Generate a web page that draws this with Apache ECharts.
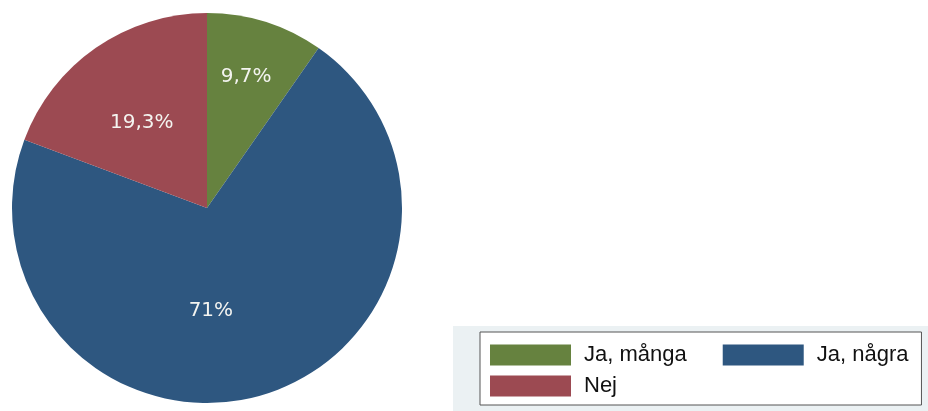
<!DOCTYPE html>
<html><head><meta charset="utf-8">
<script src="https://cdn.jsdelivr.net/npm/echarts@6/dist/echarts.min.js"></script>
<style>html,body{margin:0;padding:0;background:#fff}#c{width:928px;height:411px}</style>
</head><body><div id="c"></div>
<script>
const categories = ['Ja, många', 'Ja, några', 'Nej'];
const values = [9.7, 71, 19.3];
const labels = ['9,7%', '71%', '19,3%'];
const colors = ['#66823f', '#2e5780', '#9c4a52'];
const labelOffsets = [[9, -35], [-26, 7], [-8, -3]];
const legendPads = [[0, 27, 0, 8], [0, 0, 0, 8], [0, 0, 0, 8]];

const chart = echarts.init(document.getElementById('c'));
chart.setOption({
  animation: false,
  graphic: [{type: 'rect', shape: {x: 453, y: 326, width: 475, height: 85}, style: {fill: '#ebf1f3'}, z: -10}],
  legend: {
    left: 480, top: 332, width: 430,
    padding: [12, 13, 8, 10],
    borderColor: '#555', borderWidth: 1, backgroundColor: '#fff',
    itemWidth: 81, itemHeight: 21, itemGap: 9,
    icon: 'rect',
    textStyle: {fontFamily: 'Liberation Sans', fontSize: 22, color: '#111', lineHeight: 21},
    data: categories.map((n, i) => ({name: n, textStyle: {padding: legendPads[i]}}))
  },
  series: [{
    type: 'pie',
    center: [207, 208], radius: 195,
    startAngle: 90, clockwise: true,
    itemStyle: {borderWidth: 0},
    label: {position: 'inside', fontFamily: 'DejaVu Sans', fontSize: 20, color: '#f4f4f0'},
    labelLine: {show: false},
    emphasis: {disabled: true},
    data: categories.map((n, i) => ({
      name: n, value: values[i],
      itemStyle: {color: colors[i]},
      label: {formatter: labels[i], offset: labelOffsets[i]}
    }))
  }]
});
</script></body></html>
